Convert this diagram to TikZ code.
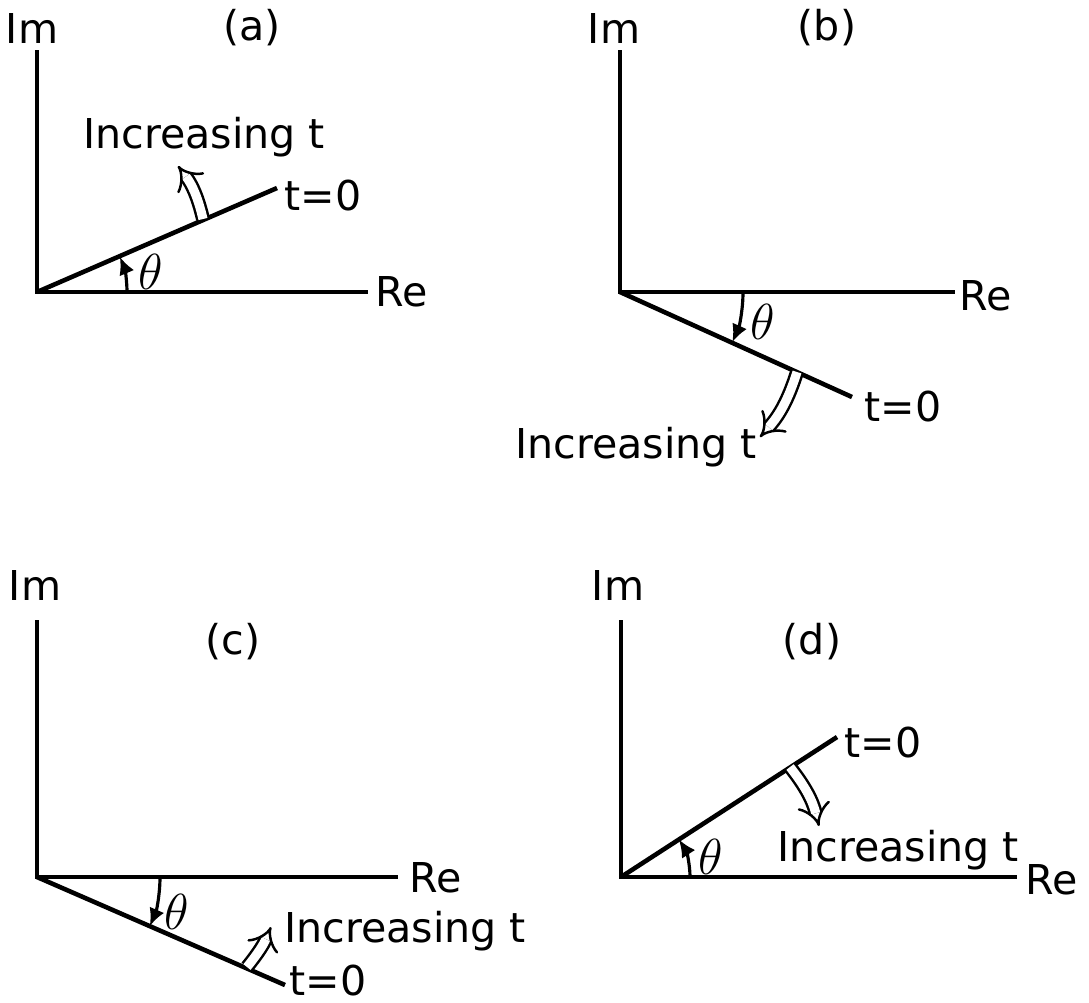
\documentclass[tikz,border=0pt]{standalone}
\usepackage{fontspec}
\setmainfont{DejaVu Sans}
\usetikzlibrary{arrows.meta}
\begin{document}
\begin{tikzpicture}[x=0.01cm,y=-0.01cm,
    axis/.style={line width=1.3pt},
    phasor/.style={line width=1.3pt},
    angarc/.style={line width=0.9pt,-{Latex[length=5pt,width=4.5pt]}},
    hollow/.style={double,double distance=2.6pt,line width=0.7pt,-{Implies}},
    lab/.style={font=\fontsize{11.7}{13}\selectfont,inner sep=1pt},
    ang/.style={font=\fontsize{14}{16}\selectfont,inner sep=1pt}]
  \useasboundingbox (0,0) rectangle (1089,1002);
  % (a)
  \coordinate (Oa) at (37,292);
  \draw[axis] (37,50) -- (Oa) -- (368,292) coordinate (Rea);
  \draw[phasor] (Oa) -- (277,188) coordinate (Ta);
  \draw[angarc] (127,292) arc[start angle=0,end angle=-23,radius=90];
  \draw[hollow] (203,219) to[bend right=12] (178,166);
  \node[lab] (ima) at (32,28) {Im};
  \node[lab] (capa) at (252,28) {(a)};
  \node[lab] (rea) at (402,292) {Re};
  \node[lab] (ta) at (323,196) {t=0};
  \node[lab] (inca) at (204,137) {Increasing t};
  \node[ang] (tha) at (151,272) {$\theta$};
  % (b)
  \coordinate (Ob) at (620,292);
  \draw[axis] (620,50) -- (Ob) -- (955,292) coordinate (Reb);
  \draw[phasor] (Ob) -- (852,397) coordinate (Tb);
  \draw[angarc] (743,292) arc[start angle=0,end angle=24,radius=123];
  \draw[hollow] (797,372) to[bend left=12] (760,437);
  \node[lab] (imb) at (614,28) {Im};
  \node[lab] (capb) at (827,28) {(b)};
  \node[lab] (reb) at (986,296) {Re};
  \node[lab] (tb) at (903,407) {t=0};
  \node[lab] (incb) at (636,447) {Increasing t};
  \node[ang] (thb) at (763,322) {$\theta$};
  % (c)
  \coordinate (Oc) at (37,877);
  \draw[axis] (37,620) -- (Oc) -- (398,877) coordinate (Rec);
  \draw[phasor] (Oc) -- (285,985) coordinate (Tc);
  \draw[angarc] (160,877) arc[start angle=0,end angle=23.5,radius=123];
  \draw[hollow] (247,967) to[bend right=8] (271,927);
  \node[lab] (imc) at (35,585) {Im};
  \node[lab] (capc) at (233,642) {(c)};
  \node[lab] (rec) at (436,878) {Re};
  \node[lab] (tc) at (328,980) {t=0};
  \node[lab] (incc) at (405,931) {Increasing t};
  \node[ang] (thc) at (177,912) {$\theta$};
  % (d)
  \coordinate (Od) at (621,877);
  \draw[axis] (621,620) -- (Od) -- (1017,877) coordinate (Red);
  \draw[phasor] (Od) -- (837,737) coordinate (Td);
  \draw[angarc] (690,877) arc[start angle=0,end angle=-33,radius=69];
  \draw[hollow] (790,767) to[bend left=12] (819,826);
  \node[lab] (imd) at (618,585) {Im};
  \node[lab] (capd) at (812,642) {(d)};
  \node[lab] (red) at (1052,880) {Re};
  \node[lab] (td) at (883,742) {t=0};
  \node[lab] (incd) at (898,850) {Increasing t};
  \node[ang] (thd) at (711,857) {$\theta$};
\end{tikzpicture}
\end{document}
